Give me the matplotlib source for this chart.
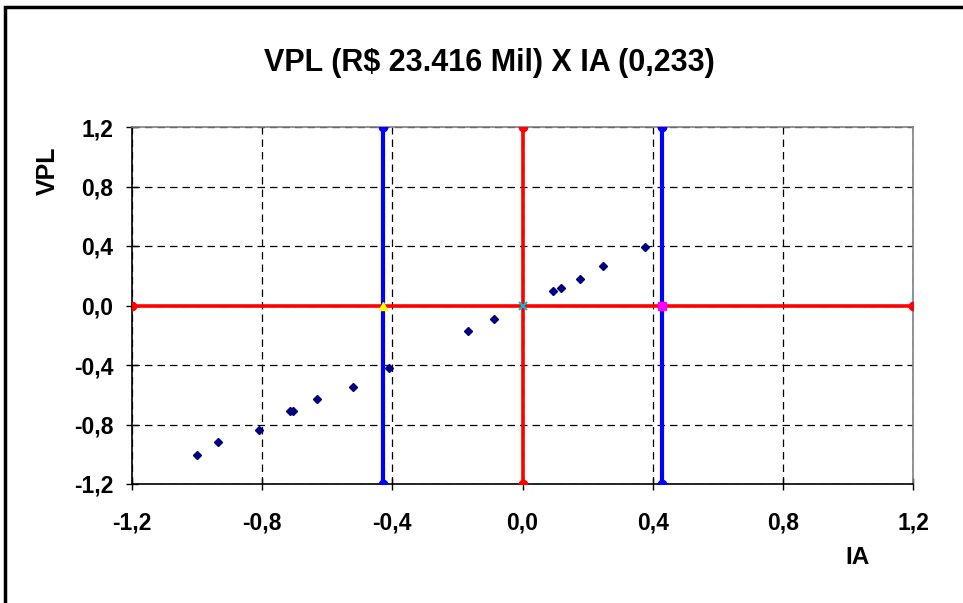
import matplotlib
matplotlib.use("Agg")
import matplotlib.pyplot as plt
from matplotlib.patches import Rectangle
from matplotlib.ticker import FixedLocator

plt.rcParams['font.family'] = ['Liberation Sans', 'DejaVu Sans']

# Scenario points: profitability index (IA) vs net present value (VPL)
ia = [-1.000, -0.936, -0.811, -0.715, -0.705, -0.632, -0.522, -0.411,
      -0.167, -0.088, 0.094, 0.118, 0.178, 0.248, 0.376]
vpl = [-1.005, -0.918, -0.839, -0.709, -0.709, -0.629, -0.546, -0.418,
       -0.171, -0.091, 0.097, 0.118, 0.178, 0.265, 0.393]

# Reference lines
limit = 1.2
band = [-0.43, 0.43]          # blue limit lines
base_point = (0.0, 0.0)       # base case
ticks = [-1.2, -0.8, -0.4, 0.0, 0.4, 0.8, 1.2]
tick_labels = ['-1,2', '-0,8', '-0,4', '0,0', '0,4', '0,8', '1,2']

fig = plt.figure(figsize=(9.63, 6.03), dpi=100)
ax = fig.add_axes([132 / 963, 1 - 484 / 603, 781 / 963, 357 / 603])

# chart area frame
fig.patches.append(Rectangle((5 / 963, -0.05), 1.1, 1 - 7 / 603 + 0.05,
                             transform=fig.transFigure, fill=False,
                             edgecolor='black', linewidth=2.5))

ax.set_xlim(-limit, limit)
ax.set_ylim(-limit, limit)
ax.xaxis.set_major_locator(FixedLocator(ticks))
ax.yaxis.set_major_locator(FixedLocator(ticks))
ax.set_xticklabels(tick_labels)
ax.set_yticklabels(tick_labels)
ax.grid(True, color='black', linestyle=(0, (6, 4)), linewidth=0.9)
ax.set_axisbelow(True)

for side in ('top', 'right'):
    ax.spines[side].set_color('#808080')
    ax.spines[side].set_linewidth(1.2)
for side in ('left', 'bottom'):
    ax.spines[side].set_color('black')
    ax.spines[side].set_linewidth(1.2)

ax.tick_params(axis='both', direction='inout', length=9, width=1.0,
               labelsize=16.5)
ax.tick_params(axis='x', pad=15)
ax.tick_params(axis='y', pad=9)
for lab in ax.get_xticklabels() + ax.get_yticklabels():
    lab.set_fontweight('bold')

# red cross through the base case
ax.plot([-limit, limit], [0, 0], color='red', linewidth=2.6,
        marker='o', markersize=6, zorder=3)
ax.plot([0, 0], [-limit, limit], color='red', linewidth=2.6,
        marker='o', markersize=6, zorder=3)

# blue limit lines
for xb in band:
    ax.plot([xb, xb], [-limit, limit], color='#0000ff', linewidth=3.0,
            marker='o', markersize=6, zorder=3)

# scenario points
ax.plot(ia, vpl, linestyle='none', marker='D', markersize=4,
        color='#000080', zorder=4)

# special markers
ax.plot([band[0]], [0], marker='^', markersize=6, color='#ffff00',
        linestyle='none', zorder=5)
ax.plot([band[1]], [0], marker='s', markersize=6, color='#ff00ff',
        linestyle='none', zorder=5)
ax.plot([base_point[0]], [base_point[1]], marker='x', markersize=6,
        markeredgewidth=1.5, color='#00c0d0', linestyle='none', zorder=5)

fig.text(489 / 963, 1 - 63 / 603, 'VPL (R$ 23.416 Mil) X IA (0,233)',
         ha='center', va='center', fontsize=22, fontweight='bold')
fig.text(48 / 963, 1 - 171 / 603, 'VPL', rotation=90, ha='center',
         va='center', fontsize=18, fontweight='bold')
fig.text(857 / 963, 1 - 557 / 603, 'IA', ha='center', va='center',
         fontsize=17.5, fontweight='bold')

fig.savefig('out.png', dpi=100)
